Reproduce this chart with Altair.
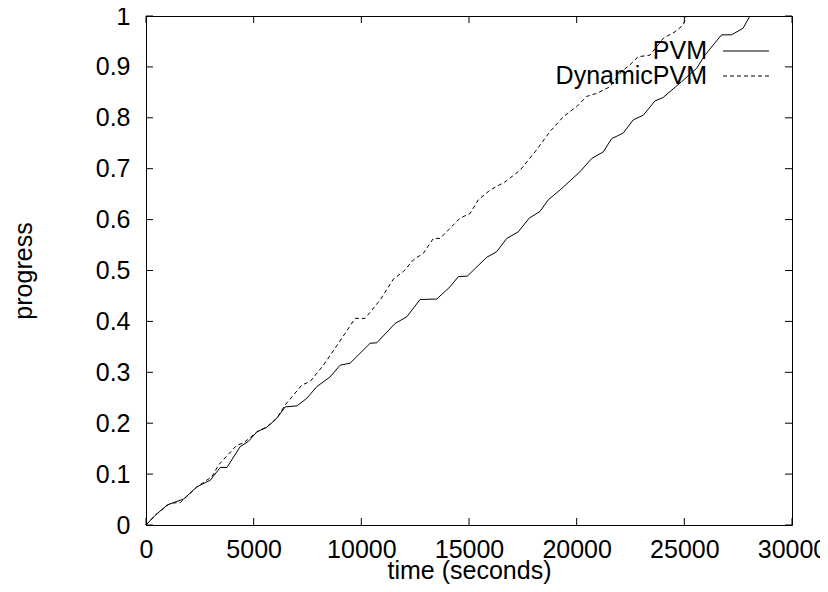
import altair as alt
import pandas as pd

# PVM (solid) series: time (s), progress
pvm_t = [0, 400, 974, 1281, 1745, 2367, 2984, 3448, 3759, 4376, 4747, 5151, 5615, 6079, 6464,
         7007, 7471, 7935, 8552, 9016, 9480, 10408, 10719, 11569, 12111, 12729, 13503, 14121,
         14506, 14923, 15824, 16288, 16752, 17290, 17800, 18297, 18682, 19225, 19690, 20153,
         20696, 21235, 21624, 22162, 22627, 23090, 23633, 24019, 24872, 25568, 25954, 26339,
         26729, 27193, 27731, 28042]
pvm_p = [0, 0.018, 0.039, 0.044, 0.051, 0.075, 0.088, 0.113, 0.113, 0.154, 0.164, 0.183, 0.192,
         0.210, 0.232, 0.234, 0.249, 0.272, 0.291, 0.314, 0.318, 0.357, 0.358, 0.396, 0.409,
         0.443, 0.444, 0.468, 0.488, 0.489, 0.526, 0.537, 0.563, 0.576, 0.603, 0.616, 0.639,
         0.658, 0.676, 0.694, 0.720, 0.733, 0.759, 0.770, 0.796, 0.805, 0.833, 0.840, 0.871,
         0.897, 0.923, 0.943, 0.963, 0.963, 0.976, 1.0]

# DynamicPVM (dashed) series
dyn_t = [0, 400, 1128, 1592, 2367, 3063, 3369, 4223, 4529, 5151, 5615, 6079, 6464, 7239, 7624,
         8241, 8937, 9712, 10176, 10872, 11490, 11954, 12418, 12882, 13346, 13657, 14585, 15049,
         15434, 15977, 16673, 17369, 18066, 18761, 19378, 20000, 20464, 20928, 21546, 22088,
         22473, 22858, 23400, 24019, 24564, 24947, 25104]
dyn_p = [0, 0.018, 0.043, 0.044, 0.075, 0.095, 0.118, 0.157, 0.161, 0.183, 0.193, 0.210, 0.236,
         0.275, 0.282, 0.314, 0.357, 0.406, 0.406, 0.442, 0.483, 0.498, 0.521, 0.534, 0.563,
         0.563, 0.603, 0.612, 0.639, 0.658, 0.674, 0.697, 0.733, 0.773, 0.802, 0.822, 0.842,
         0.848, 0.861, 0.891, 0.904, 0.920, 0.923, 0.956, 0.969, 0.982, 1.0]

x_ticks = [0, 5000, 10000, 15000, 20000, 25000, 30000]
y_ticks = [0, 0.1, 0.2, 0.3, 0.4, 0.5, 0.6, 0.7, 0.8, 0.9, 1.0]
series_names = ["PVM", "DynamicPVM"]

W, H = 646, 509
FONT = "Liberation Sans"
FS = 25
TICK = 7

pvm_df = pd.DataFrame({"t": pvm_t, "p": pvm_p})
dyn_df = pd.DataFrame({"t": dyn_t, "p": dyn_p})

xs = alt.Scale(domain=[0, 30000], nice=False, zero=False)
ys = alt.Scale(domain=[0, 1], nice=False, zero=False)

x_axis = alt.Axis(values=x_ticks, ticks=False, tickSize=0, domain=False, grid=False,
                  labelFont=FONT, labelFontSize=FS, labelColor="black", labelPadding=12,
                  title="time (seconds)", titleFont=FONT, titleFontSize=FS,
                  titleFontWeight="normal", titleColor="black",
                  titleX=W / 2, titleY=53, titleAlign="center",
                  titleBaseline="alphabetic",
                  labelFlush=False, labelOverlap=False, format="d")
y_axis = alt.Axis(values=y_ticks, ticks=False, tickSize=0, domain=False, grid=False,
                  labelFont=FONT, labelFontSize=FS, labelColor="black", labelPadding=16,
                  title="progress", titleFont=FONT, titleFontSize=FS,
                  titleFontWeight="normal", titleColor="black",
                  titleX=-123, titleY=H / 2, titleAngle=-90, titleAlign="center",
                  titleBaseline="middle", labelFlush=False, labelOverlap=False,
                  format="~g")

pvm_line = alt.Chart(pvm_df).mark_line(color="black", strokeWidth=1).encode(
    x=alt.X("t:Q", scale=xs, axis=x_axis),
    y=alt.Y("p:Q", scale=ys, axis=y_axis),
)
dyn_line = alt.Chart(dyn_df).mark_line(color="black", strokeWidth=1, strokeDash=[4, 3]).encode(
    x=alt.X("t:Q", scale=xs),
    y=alt.Y("p:Q", scale=ys),
)

xt_df = pd.DataFrame({"v": x_ticks})
yt_df = pd.DataFrame({"v": y_ticks})

xt_bottom = alt.Chart(xt_df).mark_rule(color="black", strokeWidth=1).encode(
    x=alt.X("v:Q", scale=xs), y=alt.value(H), y2=alt.value(H - TICK))
xt_top = alt.Chart(xt_df).mark_rule(color="black", strokeWidth=1).encode(
    x=alt.X("v:Q", scale=xs), y=alt.value(0), y2=alt.value(TICK))
yt_left = alt.Chart(yt_df).mark_rule(color="black", strokeWidth=1).encode(
    y=alt.Y("v:Q", scale=ys), x=alt.value(0), x2=alt.value(TICK))
yt_right = alt.Chart(yt_df).mark_rule(color="black", strokeWidth=1).encode(
    y=alt.Y("v:Q", scale=ys), x=alt.value(W - TICK), x2=alt.value(W))

# key (gnuplot style: label on the left, line sample on the right)
key_rows = []
for i, (name, dash) in enumerate(zip(series_names, [None, [4, 3]])):
    ky = 35 + 25 * i
    kdf = pd.DataFrame({"name": [name]})
    txt = alt.Chart(kdf).mark_text(align="right", baseline="middle", font=FONT,
                                   fontSize=FS, color="black").encode(
        text="name:N", x=alt.value(561), y=alt.value(ky))
    rule_kw = {"color": "black", "strokeWidth": 1}
    if dash:
        rule_kw["strokeDash"] = dash
    smp = alt.Chart(kdf).mark_rule(**rule_kw).encode(
        x=alt.value(577), x2=alt.value(623), y=alt.value(ky))
    key_rows += [txt, smp]

chart = alt.layer(
    pvm_line, dyn_line, xt_bottom, xt_top, yt_left, yt_right, *key_rows
).properties(
    width=W, height=H,
    autosize=alt.AutoSizeParams(type="none"),
    padding={"left": 138, "top": 8, "right": 28, "bottom": 59},
    background="white",
).configure_view(stroke="black", strokeWidth=1)

chart.save("out.html", embed_options={"renderer": "svg", "actions": False})
